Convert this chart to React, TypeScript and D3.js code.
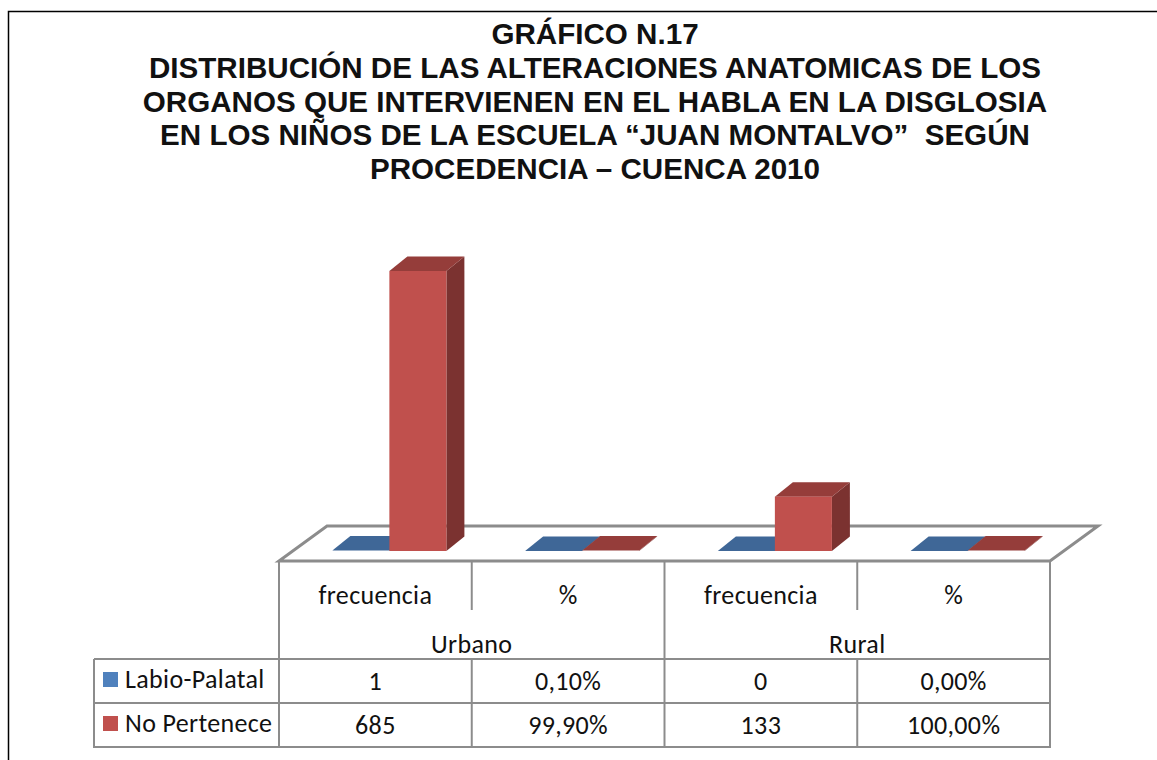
import React from "react";
import * as d3 from "d3";

const titleLines = ["GRÁFICO N.17", "DISTRIBUCIÓN DE LAS ALTERACIONES ANATOMICAS DE LOS", "ORGANOS QUE INTERVIENEN EN EL HABLA EN LA DISGLOSIA", "EN LOS NIÑOS DE LA ESCUELA “JUAN MONTALVO”  SEGÚN", "PROCEDENCIA – CUENCA 2010"];
const categories = ["frecuencia", "%", "frecuencia ", "% "];
const groups = ["Urbano", "Rural"];
const seriesNames = ["Labio-Palatal", "No Pertenece"];
const labioPalatal = [1, 0.001, 0, 0];
const noPertenece = [685, 0.999, 133, 1];
const labioLabels = ["1", "0,10%", "0", "0,00%"];
const noLabels = ["685", "99,90%", "133", "100,00%"];
const seriesData = [labioPalatal, noPertenece];
const rowLabels = [labioLabels, noLabels];

const colors = ["#4f81bd", "#c0504d"];
const topColors = ["#3f6797", "#953d3a"];
const sideColors = ["#355680", "#7b3230"];
const grid = "#8c8c8c";
const table = { left: 279, right: 1050, floorFront: 561, floorBackDx: 48, floorBackDy: 35, catBottom: 610, groupBottom: 659, row1: 703, row2: 747, legendLeft: 94 };

export default function App() {
  const x = d3.scaleBand<string>().domain(categories).range([table.left, table.right]);
  const bandW = x.bandwidth();
  const series = d3.scaleBand<string>().domain(seriesNames).range([14, bandW + 14]).paddingInner(0).paddingOuter(0.69);
  const y = d3.scaleLinear().domain([0, 685]).range([551, 271]);
  const dx = 18, dy = 14.5;
  const font = "Carlito, 'Open Sans', 'Noto Sans', sans-serif";
  const cellFont: React.CSSProperties = { fontFamily: font, fontSize: 26, fill: "#111", letterSpacing: 0.35 };
  const pts = (a: number[][]) => a.map(p => p.join(",")).join(" ");
  const bw = series.bandwidth();

  return (
    <svg width={1157} height={760} style={{ position: "absolute", left: 0, top: 0, background: "#fff" }}>
      <path d="M8.5 760V11.5H1157" fill="none" stroke="#000" strokeWidth={1.5} />
      {titleLines.map((t, i) => (
        <text key={i} x={595} y={44 + i * 33.8} textAnchor="middle" fontFamily="'Liberation Sans', Arial, sans-serif" fontWeight="bold" fontSize={29.6} fill="#111" xmlSpace="preserve">{t}</text>
      ))}
      <polygon
        points={pts([[table.left, table.floorFront], [table.right, table.floorFront], [table.right + table.floorBackDx, table.floorFront - table.floorBackDy], [table.left + table.floorBackDx, table.floorFront - table.floorBackDy]])}
        fill="#fff" stroke={grid} strokeWidth={3}
      />
      {seriesNames.map((name, si) =>
        categories.map((c, ci) => {
          const v = seriesData[si][ci];
          const bx = x(c)! + series(name)!;
          const yb = y(0);
          const yt = y(v);
          const h = yb - yt;
          return (
            <g key={name + c}>
              <polygon points={pts([[bx + bw, yb], [bx + bw + dx, yb - dy], [bx + bw + dx, yt - dy], [bx + bw, yt]])} fill={sideColors[si]} />
              <polygon points={pts([[bx, yt], [bx + bw, yt], [bx + bw + dx, yt - dy], [bx + dx, yt - dy]])} fill={topColors[si]} />
              {h > 2 && <rect x={bx} y={yt} width={bw} height={h} fill={colors[si]} />}
            </g>
          );
        })
      )}
      <g stroke={grid} fill="none">
        <path strokeWidth={2} d={`M${table.left} ${table.floorFront}V${table.row2}H${table.right}V${table.floorFront}`} />
        {categories.map((c, i) => i > 0 && (
          <line key={c} x1={x(c)} x2={x(c)} y1={table.floorFront} y2={i === 2 ? table.row2 : table.catBottom} strokeWidth={2} />
        ))}
        {[1, 3].map(i => (
          <line key={i} x1={x(categories[i])} x2={x(categories[i])} y1={table.groupBottom} y2={table.row2} strokeWidth={2} />
        ))}
        <line x1={table.legendLeft} x2={table.right} y1={table.groupBottom} y2={table.groupBottom} strokeWidth={2} />
        <line x1={table.legendLeft} x2={table.right} y1={table.row1} y2={table.row1} strokeWidth={2} />
        <path strokeWidth={2} d={`M${table.left} ${table.row2}H${table.legendLeft}V${table.groupBottom}`} />
      </g>
      {categories.map(c => (
        <text key={c} x={x(c)! + bandW / 2} y={604} textAnchor="middle" style={cellFont}>{c.trim()}</text>
      ))}
      {groups.map((g, i) => (
        <text key={g} x={x(categories[i * 2 + 1])!} y={653} textAnchor="middle" style={cellFont}>{g}</text>
      ))}
      {seriesNames.map((name, si) => {
        const baseY = si === 0 ? table.groupBottom : table.row1;
        return (
          <g key={name}>
            <rect x={103} y={baseY + 13} width={15} height={15} fill={colors[si]} />
            <text x={125} y={baseY + 29} style={cellFont}>{name}</text>
            {categories.map((c, ci) => (
              <text key={c} x={x(c)! + bandW / 2} y={baseY + 31} textAnchor="middle" style={cellFont}>{rowLabels[si][ci]}</text>
            ))}
          </g>
        );
      })}
    </svg>
  );
}
